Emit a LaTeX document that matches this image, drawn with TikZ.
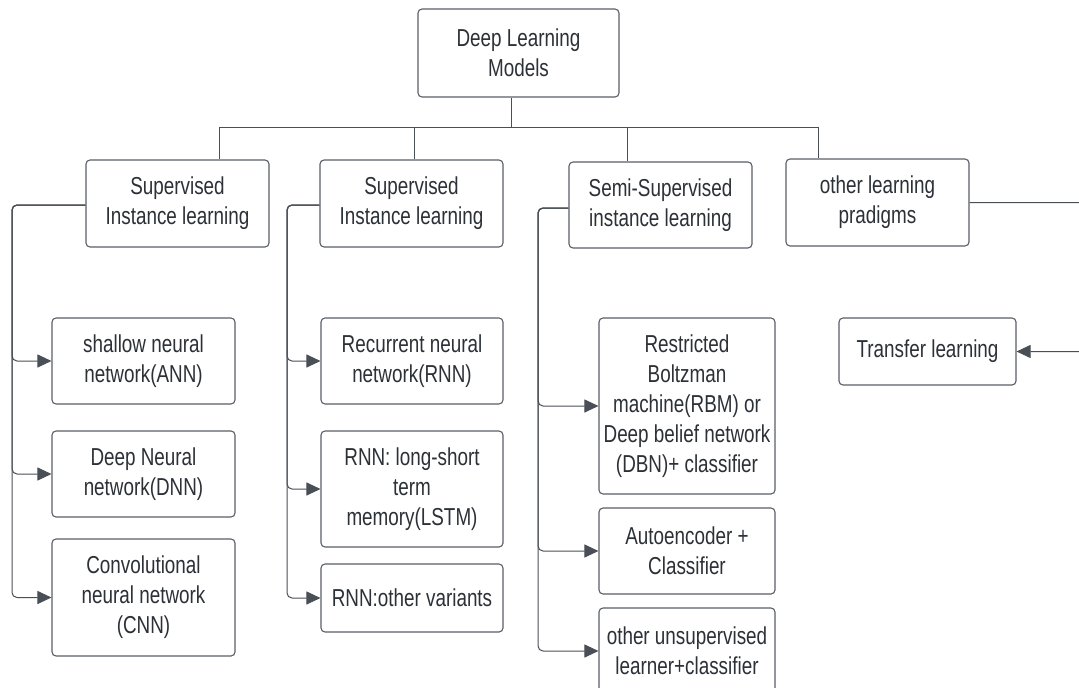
\documentclass[tikz,border=0pt]{standalone}
\usepackage{fontspec}
\setmainfont[FakeStretch=0.77]{Liberation Sans}
\usetikzlibrary{arrows.meta}
\definecolor{linec}{HTML}{4A4F57}
\definecolor{boxc}{HTML}{5A5F66}
\definecolor{textc}{HTML}{2C3138}
\begin{document}
\begin{tikzpicture}[x=1pt,y=-1pt,
  box/.style={draw=boxc,line width=1.1pt,rounded corners=4pt,fill=white,
    align=center,text=textc,inner sep=0pt,
    font=\fontsize{24.5}{30}\selectfont},
  link/.style={draw=linec,line width=1pt},
  arr/.style={link,rounded corners=5pt,-{Triangle[length=14pt,width=13pt]}}]
\useasboundingbox[fill=white] (0,0) rectangle (1079,688);
\clip (0,0) rectangle (1079,688);

% root and first level
\node[box,minimum width=201pt,minimum height=88pt] (root) at (518.5,53) {Deep Learning\\Models};
\node[box,minimum width=183pt,minimum height=87pt] (s1) at (177.5,203.5) {Supervised\\Instance learning};
\node[box,minimum width=183pt,minimum height=87pt] (s2) at (411.5,203.5) {Supervised\\Instance learning};
\node[box,minimum width=183pt,minimum height=86pt] (s3) at (660.5,205) {Semi-Supervised\\instance learning};
\node[box,minimum width=183pt,minimum height=87pt] (s4) at (877.5,202.5) {other learning\\pradigms};

% supervised branch 1
\node[box,minimum width=183pt,minimum height=86pt] (ann) at (143.5,361) {shallow neural\\network(ANN)};
\node[box,minimum width=183pt,minimum height=86pt] (dnn) at (143.5,474) {Deep Neural\\network(DNN)};
\node[box,minimum width=183pt,minimum height=117pt] (cnn) at (143.5,597.5) {Convolutional\\neural network\\(CNN)};

% supervised branch 2
\node[box,minimum width=182pt,minimum height=86pt] (rnn) at (412,361) {Recurrent neural\\network(RNN)};
\node[box,minimum width=182pt,minimum height=116pt] (lstm) at (412,489) {RNN: long-short\\term\\memory(LSTM)};
\node[box,minimum width=182pt,minimum height=68pt] (rvar) at (412,598) {RNN:other variants};

% semi-supervised branch
\node[box,minimum width=176pt,minimum height=176pt] (rbm) at (687,406) {Restricted\\Boltzman\\machine(RBM) or\\Deep belief network\\(DBN)+ classifier};
\node[box,minimum width=176pt,minimum height=86pt] (auto) at (687,551) {Autoencoder +\\Classifier};
\node[box,minimum width=176pt,minimum height=86pt] (unsup) at (687,651) {other unsupervised\\learner+classifier};

% other paradigms
\node[box,minimum width=177pt,minimum height=67pt] (transfer) at (927.5,351.5) {Transfer learning};

% tree from the root
\coordinate (bus) at (511,127);
\draw[link] ([xshift=-7.5pt]root.south) -- (bus);
\draw[link] (bus) -| ([xshift=41.5pt]s1.north);
\draw[link] (bus) -| ([xshift=2.5pt]s2.north);
\draw[link] (bus) -| ([xshift=-33.5pt]s3.north);
\draw[link] (bus) -| ([xshift=-59.5pt]s4.north);

% rails on the left of each group
\coordinate (r1) at (12,0);
\coordinate (r2) at (287,0);
\coordinate (r3) at (538,0);
\coordinate (r4) at (1095,0);

\draw[arr] ([yshift=-1.5pt]s1.west) -| (r1 |- ann.west) -- (ann.west);
\draw[arr] ([yshift=-1.5pt]s1.west) -| (r1 |- dnn.west) -- (dnn.west);
\draw[arr] ([yshift=-1.5pt]s1.west) -| (r1 |- cnn.west) -- (cnn.west);

\draw[arr] ([yshift=-1.5pt]s2.west) -| (r2 |- rnn.west) -- (rnn.west);
\draw[arr] ([yshift=-1.5pt]s2.west) -| (r2 |- lstm.west) -- (lstm.west);
\draw[arr] ([yshift=-1.5pt]s2.west) -| (r2 |- rvar.west) -- (rvar.west);

\draw[arr] ([yshift=-3pt]s3.west) -| (r3 |- rbm.west) -- (rbm.west);
\draw[arr] ([yshift=-3pt]s3.west) -| (r3 |- auto.west) -- (auto.west);
\draw[arr] ([yshift=-3pt]s3.west) -| (r3 |- unsup.west) -- (unsup.west);

\draw[arr] (s4.east) -| (r4 |- transfer.east) -- (transfer.east);
\end{tikzpicture}
\end{document}
